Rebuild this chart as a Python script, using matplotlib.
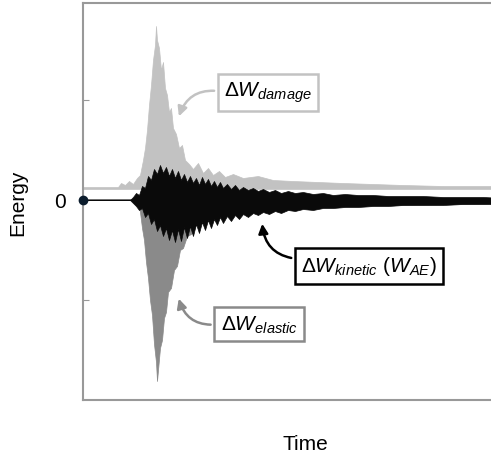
import matplotlib.pyplot as plt

plt.rcParams['font.family'] = ['Liberation Sans', 'DejaVu Sans']
plt.rcParams['mathtext.fontset'] = 'custom'
plt.rcParams['mathtext.rm'] = 'Liberation Sans'
plt.rcParams['mathtext.it'] = 'Liberation Sans:italic'
plt.rcParams['mathtext.bf'] = 'Liberation Sans:bold'

# damage energy (light gray), upper envelope
dmg_base = 0.11
dmg_t = [0, 35, 38, 42, 46, 50, 54, 57, 60, 62, 64, 66, 68, 70, 72, 73, 74, 76, 78, 80,
         82, 84, 86, 88, 90, 93, 96, 99, 102, 106, 110, 115, 120, 125, 130, 136, 142, 150,
         160, 175, 190, 210, 235, 260, 290, 320, 360, 400, 444]
dmg_hi = [0.13, 0.13, 0.17, 0.15, 0.19, 0.16, 0.22, 0.25, 0.40, 0.52, 0.70, 0.95, 1.15, 1.40,
          1.55, 1.74, 1.60, 1.52, 1.30, 1.38, 1.12, 1.05, 0.88, 0.92, 0.72, 0.66, 0.52, 0.55,
          0.40, 0.36, 0.31, 0.37, 0.27, 0.32, 0.25, 0.29, 0.23, 0.26, 0.22, 0.24, 0.20, 0.19,
          0.18, 0.17, 0.16, 0.15, 0.14, 0.14, 0.14]

# elastic energy (mid gray)
el_t = [0, 55, 57, 59, 61, 63, 65, 67, 69, 71, 73, 74, 75, 77, 79, 81, 83, 85, 88, 91,
        94, 97, 100, 104, 108, 113, 118, 125, 135, 150, 180, 230, 300, 444]
el_lo = [0, 0, -0.12, -0.28, -0.40, -0.62, -0.78, -1.00, -1.15, -1.44, -1.62, -1.81, -1.70,
         -1.48, -1.40, -1.18, -1.12, -0.92, -0.88, -0.70, -0.66, -0.50, -0.48, -0.36, -0.34,
         -0.25, -0.22, -0.16, -0.14, -0.10, -0.08, -0.06, -0.05, -0.03]

# kinetic energy (black)
kin_t = [0, 47, 50, 53, 56, 59, 62, 65, 68, 71, 74, 77, 80, 83, 86, 89, 92, 95, 98, 101,
         104, 107, 110, 113, 116, 119, 122, 125, 128, 131, 134, 137, 140, 144, 148, 152, 156,
         160, 165, 170, 175, 180, 186, 192, 198, 205, 212, 220, 230, 240, 250, 262, 275, 290,
         305, 320, 340, 360, 380, 400, 420, 444]
kin_hi = [0, 0, 0.03, 0.07, 0.05, 0.14, 0.12, 0.24, 0.20, 0.31, 0.26, 0.35, 0.27, 0.33, 0.24,
          0.31, 0.22, 0.29, 0.20, 0.26, 0.18, 0.24, 0.17, 0.22, 0.15, 0.23, 0.16, 0.21, 0.14,
          0.19, 0.13, 0.18, 0.12, 0.16, 0.11, 0.15, 0.10, 0.13, 0.10, 0.12, 0.09, 0.11, 0.08,
          0.10, 0.07, 0.09, 0.07, 0.08, 0.06, 0.07, 0.05, 0.06, 0.05, 0.05, 0.04, 0.04, 0.04,
          0.03, 0.03, 0.03, 0.02, 0.02]
kin_lo = [0, 0, -0.03, -0.06, -0.10, -0.08, -0.17, -0.13, -0.24, -0.19, -0.31, -0.25, -0.36,
          -0.28, -0.40, -0.30, -0.42, -0.29, -0.41, -0.27, -0.38, -0.26, -0.36, -0.24, -0.33,
          -0.22, -0.30, -0.20, -0.28, -0.19, -0.25, -0.17, -0.23, -0.16, -0.21, -0.15, -0.19,
          -0.14, -0.17, -0.13, -0.15, -0.12, -0.14, -0.11, -0.13, -0.10, -0.11, -0.09, -0.10,
          -0.08, -0.08, -0.07, -0.07, -0.06, -0.06, -0.05, -0.05, -0.05, -0.04, -0.04, -0.04,
          -0.03]

c_dmg = '#c2c2c2'
c_el = '#8a8a8a'
c_kin = '#0a0a0a'

fig = plt.figure(figsize=(4.91, 4.56), dpi=100)
ax = fig.add_axes([83 / 491, 55 / 456, 444 / 491, 397 / 456])

ax.plot([0, 50], [0, 0], color='#555555', lw=1.2, zorder=1)
ax.fill_between(dmg_t, dmg_base, dmg_hi, color=c_dmg, lw=0.5, zorder=2)
ax.fill_between(el_t, el_lo, 0, color=c_el, lw=0.5, zorder=3)
ax.fill_between(kin_t, kin_lo, kin_hi, color=c_kin, lw=0.5, zorder=4)
ax.plot([0], [0], 'o', color='#0b1c2c', ms=6, clip_on=False, zorder=10)

ax.annotate(r'$\Delta W_{damage}$', xy=(95, 0.81), xytext=(185, 1.08),
            fontsize=15, color='black', ha='center', va='center',
            bbox=dict(boxstyle='square,pad=0.3', fc='white', ec=c_dmg, lw=1.8),
            arrowprops=dict(arrowstyle='-|>', color=c_dmg, lw=1.8, mutation_scale=14,
                            relpos=(0, 0.5), connectionstyle='arc3,rad=0.45'))
ax.annotate(r'$\Delta W_{elastic}$', xy=(95, -0.96), xytext=(176, -1.24),
            fontsize=15, color='black', ha='center', va='center',
            bbox=dict(boxstyle='square,pad=0.3', fc='white', ec=c_el, lw=1.8),
            arrowprops=dict(arrowstyle='-|>', color=c_el, lw=1.8, mutation_scale=14,
                            relpos=(0, 0.5), connectionstyle='arc3,rad=-0.45'))
ax.annotate(r'$\Delta W_{kinetic}$ ($W_{AE}$)', xy=(179, -0.21), xytext=(286, -0.66),
            fontsize=15, color='black', ha='center', va='center',
            bbox=dict(boxstyle='square,pad=0.3', fc='white', ec='black', lw=1.8),
            arrowprops=dict(arrowstyle='-|>', color='black', lw=1.8, mutation_scale=14,
                            relpos=(0, 0.8), connectionstyle='arc3,rad=-0.45'))

ax.set_xlim(0, 444)
ax.set_ylim(-2.0, 1.97)
ax.set_xticks([])
ax.set_yticks([-1, 0, 1])
ax.set_yticklabels(['', '0', ''], fontsize=15)
ax.tick_params(axis='y', direction='in', length=4, color='#999999', pad=12)
for s in ax.spines.values():
    s.set_color('#999999')
    s.set_linewidth(1.5)

ax.set_xlabel('Time', fontsize=15)
ax.set_ylabel('Energy', fontsize=15)
ax.xaxis.set_label_coords(0.5, -0.085)
ax.yaxis.set_label_coords(-0.126, 0.5)

fig.savefig('out.png', dpi=100)
